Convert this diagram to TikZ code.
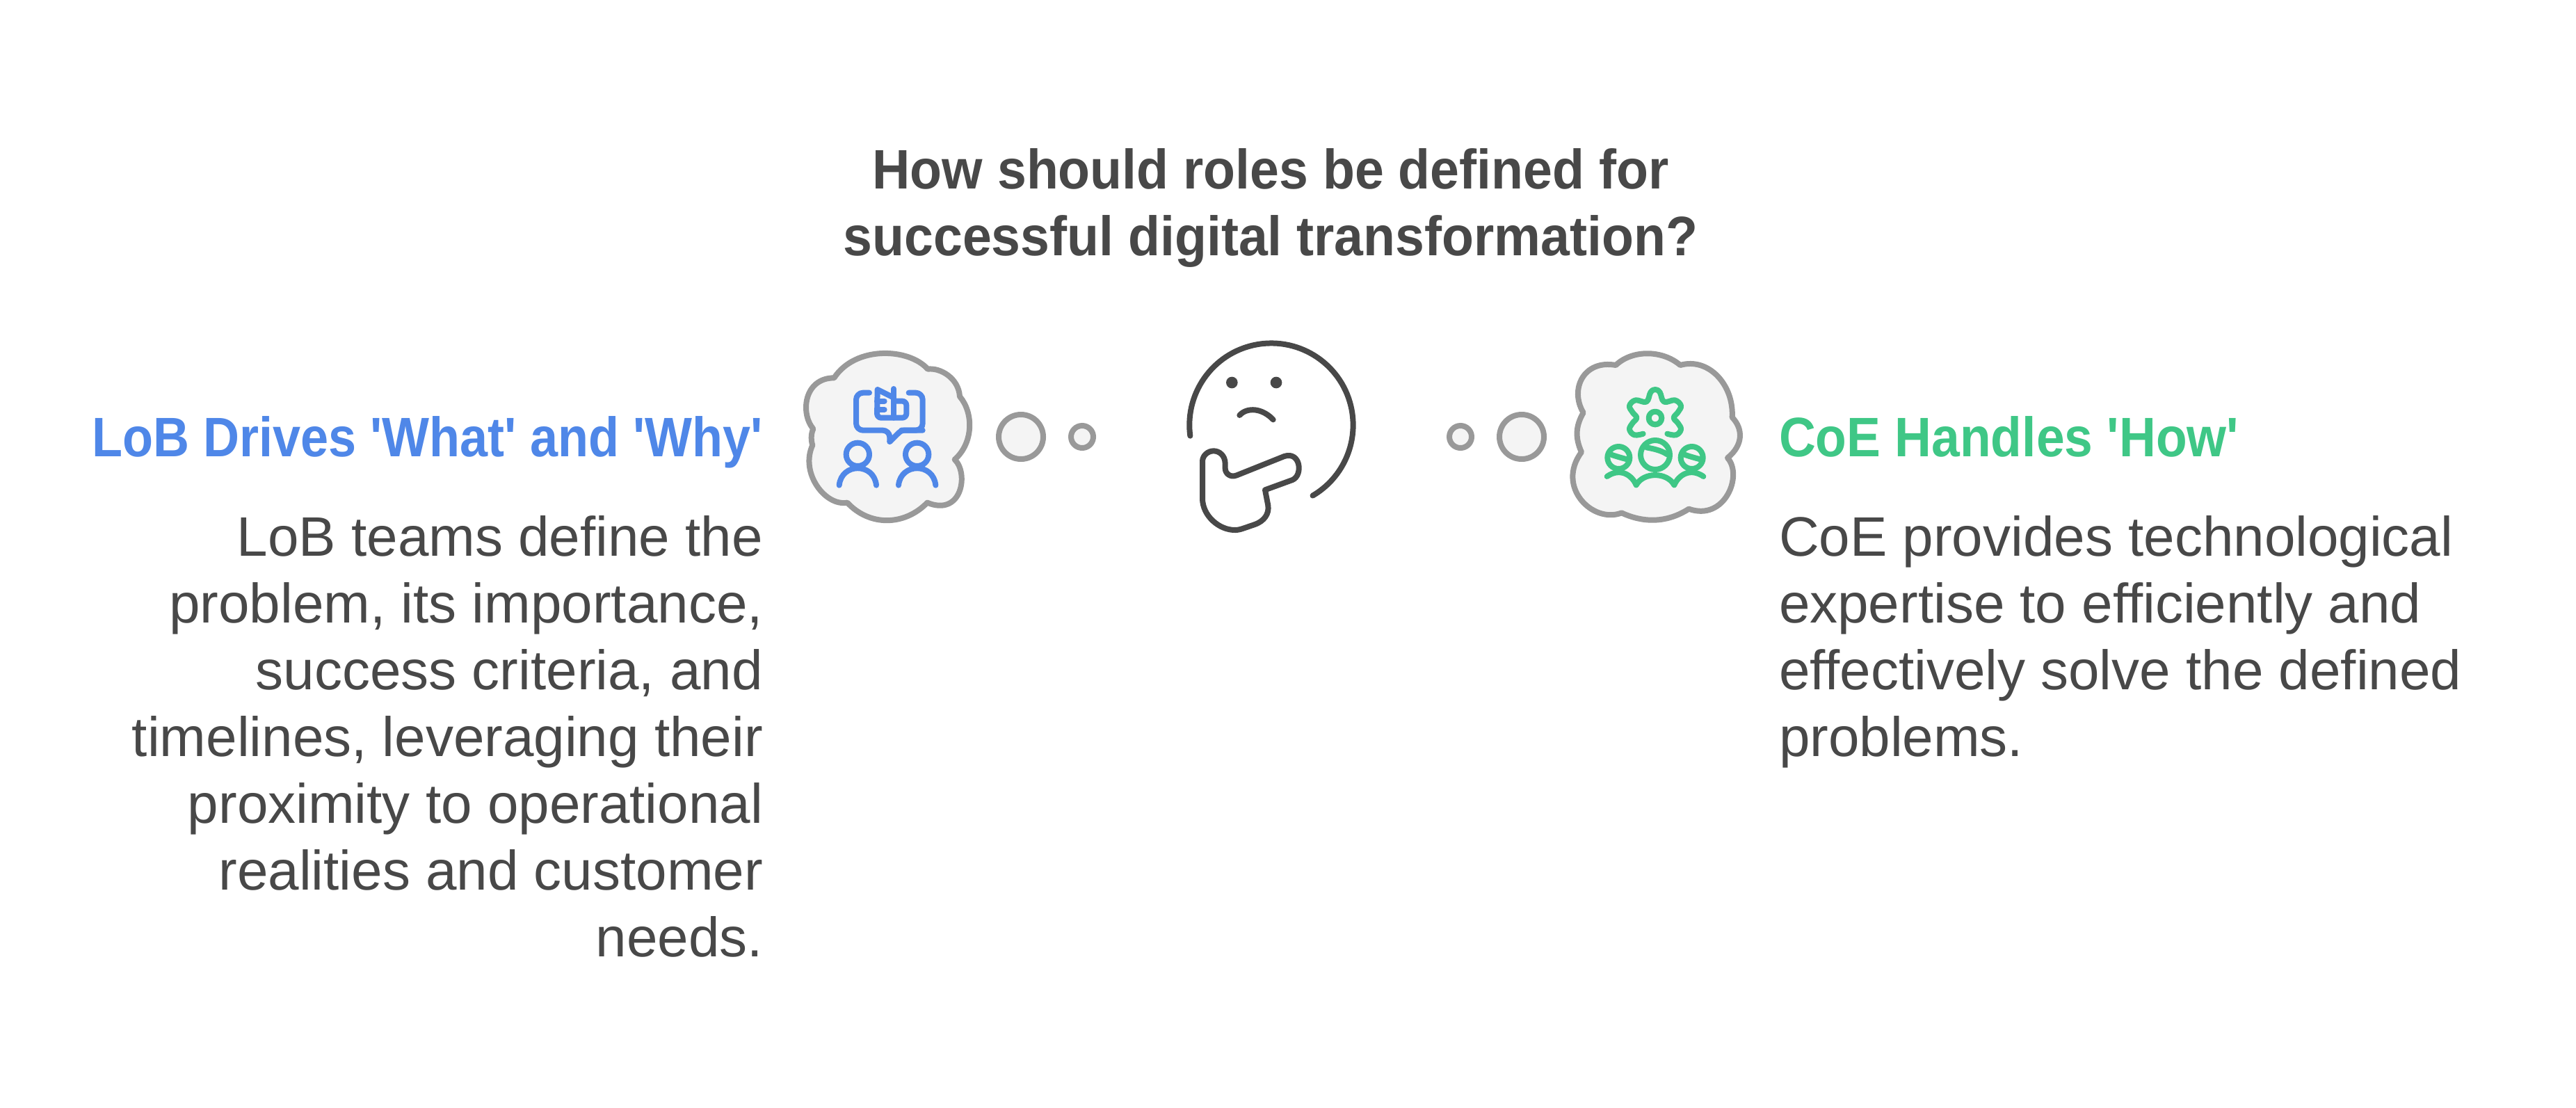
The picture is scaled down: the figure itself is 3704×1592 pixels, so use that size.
\documentclass[tikz,border=0pt]{standalone}
\usepackage{fontspec}
\newfontfamily\bodyfam{Liberation Sans}
\newfontfamily\titlefam[FakeStretch=0.94]{Liberation Sans Bold}
\newfontfamily\lobfam[FakeStretch=0.9]{Liberation Sans Bold}
\newfontfamily\coefam[FakeStretch=0.915]{Liberation Sans Bold}
\definecolor{inkgrey}{HTML}{484848}
\definecolor{cloudline}{HTML}{999999}
\definecolor{cloudfill}{HTML}{F4F4F4}
\definecolor{lobblue}{HTML}{4F87E8}
\definecolor{coegreen}{HTML}{3FC786}
\tikzset{
  txt/.style={inner sep=0pt,outer sep=0pt,text=inkgrey,font=\fontsize{40}{48}\selectfont\bodyfam},
  titletxt/.style={txt,font=\fontsize{40}{48}\selectfont\titlefam},
  lobhd/.style={txt,text=lobblue,font=\fontsize{40}{48}\selectfont\lobfam},
  coehd/.style={txt,text=coegreen,font=\fontsize{40}{48}\selectfont\coefam},
  cloud/.style={draw=cloudline,fill=cloudfill,line width=4pt,line join=round},
  bubble/.style={circle,draw=cloudline,fill=cloudfill,line width=4pt,inner sep=0pt,outer sep=0pt},
  bluestroke/.style={draw=lobblue,line width=4pt,line cap=round,line join=round},
  greenstroke/.style={draw=coegreen,line width=4pt,line cap=round,line join=round},
  face/.style={draw=inkgrey,line width=4pt,line cap=round,line join=round},
}
\begin{document}
\begin{tikzpicture}[x=0.5pt,y=-0.5pt]
\useasboundingbox (0,0) rectangle (3704,1592);
\fill[white] (0,0) rectangle (3704,1592);
% title
\node[titletxt,anchor=north,align=center] (title) at (1827,203.8) {\strut How should roles be defined for\\successful digital transformation?};
% left
\node[lobhd,anchor=base east] (lobhead) at (1097,656) {LoB Drives 'What' and 'Why'};
\node[txt,anchor=north east,align=right] (lobbody) at (1097,731.8) {\strut LoB teams define the\\problem, its importance,\\success criteria, and\\timelines, leveraging their\\proximity to operational\\realities and customer\\needs.};
% right
\node[coehd,anchor=base west] (coehead) at (2558,656) {CoE Handles 'How'};
\node[txt,anchor=north west,align=left] (coebody) at (2558,731.8) {\strut CoE provides technological\\expertise to efficiently and\\effectively solve the defined\\problems.};
% bubbles
\node[bubble,minimum size=32pt] (lbig) at (1468,628) {};
\node[bubble,minimum size=16pt] (lsmall) at (1556,628) {};
\node[bubble,minimum size=32pt] (rbig) at (2188,628) {};
\node[bubble,minimum size=16pt] (rsmall) at (2100,628) {};
% left cloud and icon
\begin{scope}[shift={(1130,480)},scale=1/3]
\draw[cloud] (208,190) .. controls (300,50) and (530,60) .. (612,152)
  .. controls (665,145) and (745,190) .. (750,270)
  .. controls (810,340) and (810,470) .. (728,542)
  .. controls (790,600) and (760,790) .. (610,728)
  .. controls (510,830) and (360,830) .. (265,728)
  .. controls (170,745) and (60,600) .. (115,480)
  .. controls (108,460) and (108,430) .. (118,410)
  .. controls (60,340) and (80,190) .. (208,190) -- cycle;
\draw[bluestroke,rounded corners=5pt] (360,254) -- (303,254) -- (303,416) -- (448,416) -- (448,465);
\draw[bluestroke,rounded corners=2pt] (448,465) -- (498,416) -- (590,416);
\draw[bluestroke,rounded corners=5pt] (498,416) -- (590,416) -- (590,254) -- (530,254);
\draw[bluestroke,rounded corners=3pt] (395,240) -- (393,362) -- (520,362) -- (520,290) -- (465,290);
\draw[bluestroke] (397,241) -- (465,275);
\draw[bluestroke] (465,237) -- (465,362);
\draw[bluestroke] (393,290) -- (425,290);
\draw[bluestroke] (393,327) -- (425,327);
\draw[bluestroke] (310,520) circle[radius=50];
\draw[bluestroke] (566,520) circle[radius=50];
\draw[bluestroke] (230,653) .. controls (240,555) and (380,555) .. (390,653);
\draw[bluestroke] (486,653) .. controls (496,555) and (636,555) .. (646,653);
\end{scope}
% thinking face
\begin{scope}[shift={(1650,470)},scale=1/3]
\draw[face] (184,470) arc[start angle=172.4,end angle=419.6,radius=353];
\fill[inkgrey] (364,240) circle[radius=25];
\fill[inkgrey] (555,240) circle[radius=25];
\draw[face] (397,381) .. controls (430,345) and (495,350) .. (542,400);
\draw[face] (507,703) -- (625,660) .. controls (672,640) and (660,535) .. (590,558)
  -- (385,640) .. controls (355,652) and (335,630) .. (335,610) -- (335,590)
  .. controls (335,555) and (310,535) .. (285,535) .. controls (260,535) and (237,555) .. (237,580)
  -- (237,740) .. controls (237,815) and (310,878) .. (380,876)
  .. controls (395,876) and (410,870) .. (425,865) -- (460,853)
  .. controls (505,838) and (525,805) .. (520,770) -- cycle;
\end{scope}
% right cloud and icon
\begin{scope}[shift={(2060,480)},scale=1/3]
\draw[cloud] (790,135) .. controls (860,68) and (990,68) .. (1068,135)
  .. controls (1190,100) and (1300,220) .. (1292,360)
  .. controls (1340,410) and (1340,480) .. (1272,535)
  .. controls (1340,610) and (1260,810) .. (1105,755)
  .. controls (1010,816) and (910,816) .. (815,772)
  .. controls (690,820) and (530,660) .. (642,510)
  .. controls (615,450) and (615,400) .. (650,340)
  .. controls (590,240) and (650,110) .. (790,135) -- cycle;
\draw[greenstroke] plot[smooth,tension=0.65] coordinates {(908,431) (870,436) (849,412) (862,385) (880,362) (862,338) (849,310) (875,286) (922,293) (940,252) (960,240) (980,252) (998,293) (1045,286) (1071,310) (1058,338) (1040,362) (1058,385) (1071,412) (1050,436) (1012,431)};
\draw[greenstroke] (960,363) circle[radius=28];
\draw[greenstroke] (960,522) circle[radius=63];
\draw[greenstroke] (802,534) circle[radius=48];
\draw[greenstroke] (1118,534) circle[radius=48];
\draw[greenstroke] (922,490) .. controls (950,495) and (985,502) .. (1012,520);
\draw[greenstroke] (768,520) .. controls (790,528) and (815,535) .. (842,542);
\draw[greenstroke] (1084,520) .. controls (1106,528) and (1131,535) .. (1158,542);
\draw[greenstroke] (752,615) .. controls (810,575) and (860,610) .. (878,652);
\draw[greenstroke] (878,652) .. controls (910,595) and (1010,595) .. (1042,652);
\draw[greenstroke] (1042,652) .. controls (1060,610) and (1110,575) .. (1168,615);
\end{scope}
\end{tikzpicture}
\end{document}
